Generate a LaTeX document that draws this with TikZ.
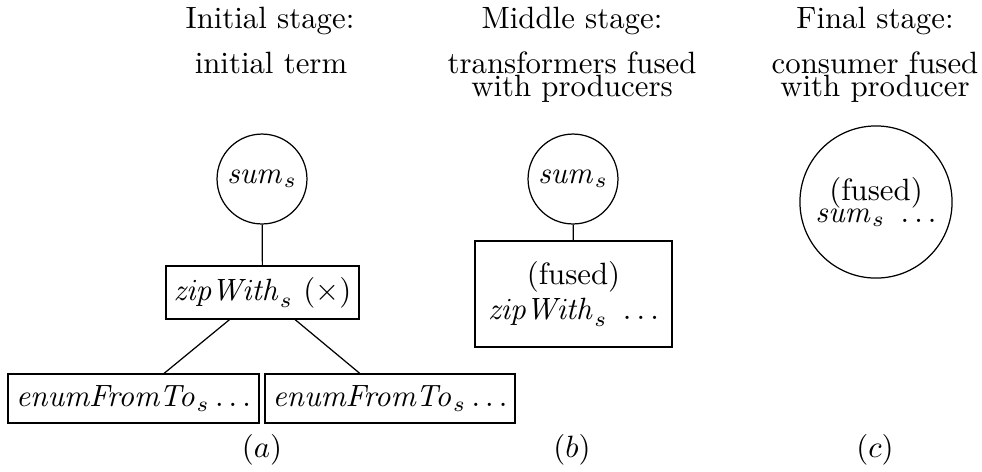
\documentclass[tikz,border=0pt]{standalone}
\usepackage{amsmath}
\begin{document}
\begin{tikzpicture}[x=0.3247pt,y=-0.3247pt,
  circnode/.style={draw,circle,inner sep=0pt,minimum size=29.2pt},
  bigcirc/.style={draw,circle,inner sep=0pt,minimum size=49.4pt,align=center},
  boxnode/.style={draw,rectangle,inner sep=0pt},
  title/.style={anchor=base,inner sep=0pt},
  subtitle/.style={align=center,inner sep=0pt},
  caplabel/.style={anchor=base,inner sep=0pt}]
\useasboundingbox (0,0) rectangle (982,471);
% titles
\node[title] (t1) at (270,28) {Initial stage:};
\node[title] (s1) at (271,73) {initial term};
\node[title] (t2) at (572,28) {Middle stage:};
\node[subtitle] (s2) at (572,77) {transformers fused\\[-4.6pt]with producers};
\node[title] (t3) at (875,28) {Final stage:};
\node[subtitle] (s3) at (875,77) {consumer fused\\[-4.6pt]with producer};
% (a)
\node[circnode] (suma) at (262,179) {$\mathit{sum}_s$};
\node[boxnode,minimum width=62.7pt,minimum height=17.2pt] (zip) at (262.5,292.5) {$\mathit{zipWith}_s\ (\times)$};
\node[boxnode,minimum width=81.5pt,minimum height=15.9pt] (enl) at (133.5,398.5) {$\mathit{enumFromTo}_s\ldots$};
\node[boxnode,minimum width=81.2pt,minimum height=15.9pt] (enr) at (390,398.5) {$\mathit{enumFromTo}_s\ldots$};
\draw (suma) -- (zip);
\draw (zip) -- (enl);
\draw (zip) -- (enr);
% (b)
\node[circnode] (sumb) at (573,179) {$\mathit{sum}_s$};
\node[boxnode,minimum width=64pt,minimum height=34.4pt,align=center] (fzip) at (573.5,294) {(fused)\\[-0.6pt]$\mathit{zipWith}_s\ \ldots$};
\draw (sumb) -- (fzip);
% (c)
\node[bigcirc] (fsum) at (876,202) {(fused)\\[-4.8pt]$\mathit{sum}_s\ \ldots$};
% labels
\node[caplabel] (la) at (262,457) {$(a)$};
\node[caplabel] (lb) at (572,457) {$(b)$};
\node[caplabel] (lc) at (875,457) {$(c)$};
\end{tikzpicture}
\end{document}
